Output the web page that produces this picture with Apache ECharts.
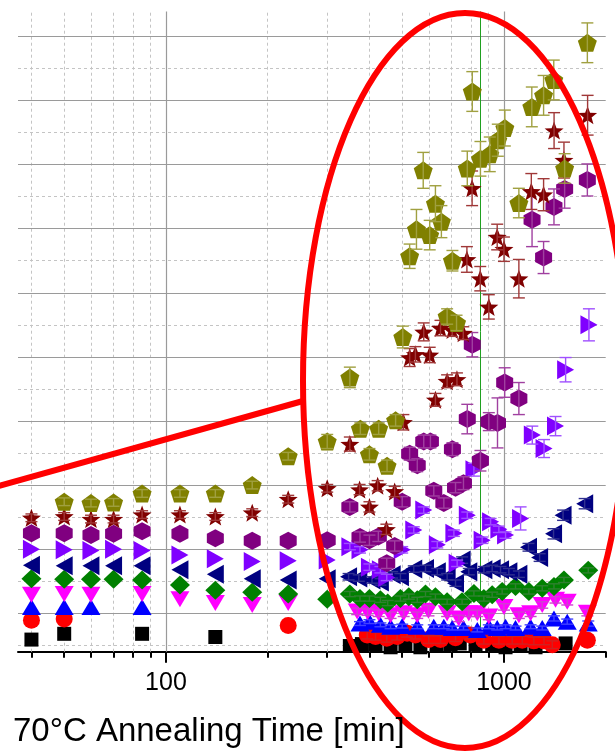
<!DOCTYPE html>
<html><head><meta charset="utf-8">
<script src="https://cdn.jsdelivr.net/npm/echarts@6/dist/echarts.min.js"></script>
<style>html,body{margin:0;padding:0;background:#fff}#c{width:615px;height:751px}</style>
</head><body><div id="c"></div>
<script>
// ---------- axis / grid values ----------
const xMin = 36.5, xMax = 2000;
const yMin = 0.401, yMax = 10.388;
const xTickMajor = [100, 1000];
const xTickLabels = ['100', '1000'];
const xTickMinor = [40, 50, 60, 70, 80, 90, 200, 300, 400, 500, 600, 700, 800, 900, 2000];
const xGridMinor = [40, 50, 60, 70, 80, 90, 200, 300, 400, 500, 600, 700, 800, 900];
const yGridMajor = [1, 2, 3, 4, 5, 6, 7, 8, 9, 10];
const yGridMinor = [0.5, 1.5, 2.5, 3.5, 4.5, 5.5, 6.5, 7.5, 8.5, 9.5];
const markerTime = 852;
const axisTitle = '70°C Annealing Time [min]';

// ---------- series data (time [min], value, error) ----------
const squareT = [40, 50, 85, 140, 350, 380, 417, 462, 511, 566, 632, 695, 740, 824, 923, 1011, 1120, 1240, 1522];
const squareV = [0.59, 0.68, 0.68, 0.63, 0.49, 0.52, 0.51, 0.47, 0.49, 0.47, 0.51, 0.51, 0.53, 0.51, 0.51, 0.47, 0.51, 0.47, 0.53];
const squareE = [0, 0, 0, 0, 0, 0, 0, 0, 0, 0, 0, 0, 0, 0, 0, 0, 0, 0, 0];

const circleT = [40, 50, 230, 394, 417, 450, 483, 517, 547, 599, 649, 719, 796, 872, 966, 1058, 1133, 1226, 1314, 1390, 1765];
const circleV = [0.89, 0.91, 0.81, 0.66, 0.64, 0.61, 0.64, 0.69, 0.66, 0.59, 0.59, 0.62, 0.66, 0.58, 0.58, 0.58, 0.58, 0.57, 0.57, 0.51, 0.58];
const circleE = [0, 0, 0, 0.06, 0.06, 0.06, 0.06, 0.06, 0.06, 0.06, 0.06, 0.06, 0.06, 0.06, 0.06, 0.06, 0.06, 0.06, 0.06, 0.06, 0];

const upT = [40, 50, 60, 85, 375, 400, 431, 462, 500, 554, 620, 664, 703, 759, 834, 902, 955, 1011, 1082, 1199, 1298, 1406, 1539, 1776];
const upV = [1.10, 1.10, 1.10, 1.10, 0.84, 0.87, 0.82, 0.79, 0.80, 0.79, 0.79, 0.79, 0.77, 0.77, 0.74, 0.79, 0.77, 0.79, 0.77, 0.79, 0.77, 0.92, 0.87, 0.84];
const upE = [0, 0, 0, 0, 0.03, 0.03, 0.03, 0.03, 0.03, 0.03, 0.03, 0.03, 0.03, 0.03, 0.03, 0.03, 0.03, 0.03, 0.03, 0.03, 0.03, 0.04, 0.04, 0.04];

const downT = [40, 50, 60, 85, 110, 140, 180, 230, 368, 395, 426, 462, 505, 554, 598, 679, 735, 787, 834, 902, 1000, 1107, 1199, 1298, 1421, 1539, 1765];
const downV = [1.29, 1.30, 1.29, 1.30, 1.22, 1.16, 1.13, 1.16, 1.03, 1.02, 1.00, 0.97, 1.00, 0.97, 1.04, 1.00, 0.92, 1.00, 1.00, 0.95, 1.10, 0.97, 1.00, 1.13, 1.21, 1.18, 1.01];
const downE = [0, 0, 0, 0, 0, 0, 0, 0, 0.05, 0.05, 0.05, 0.05, 0.05, 0.05, 0.08, 0.05, 0.05, 0.05, 0.05, 0.05, 0.05, 0.05, 0.05, 0.05, 0.05, 0.05, 0.05];

const diamondT = [40, 50, 60, 70, 85, 110, 140, 180, 230, 300, 350, 375, 400, 431, 453, 494, 523, 554, 586, 627, 679, 752, 815, 872, 923, 988, 1082, 1185, 1298, 1406, 1505, 1776];
const diamondV = [1.54, 1.53, 1.53, 1.53, 1.52, 1.44, 1.36, 1.33, 1.30, 1.22, 1.30, 1.23, 1.23, 1.21, 1.16, 1.23, 1.26, 1.21, 1.30, 1.26, 1.18, 1.18, 1.31, 1.23, 1.29, 1.34, 1.42, 1.34, 1.39, 1.42, 1.52, 1.67];
const diamondE = [0, 0, 0, 0, 0, 0, 0, 0, 0, 0, 0.04, 0.04, 0.04, 0.04, 0.04, 0.04, 0.04, 0.04, 0.04, 0.04, 0.04, 0.04, 0.04, 0.04, 0.04, 0.04, 0.04, 0.04, 0.04, 0.04, 0.04, 0.04];

const leftT = [40, 50, 60, 70, 85, 110, 140, 180, 230, 300, 347, 372, 407, 431, 467, 494, 541, 586, 635, 679, 719, 752, 787, 872, 923, 977, 1034, 1107, 1182, 1275, 1402, 1496, 1733];
const leftV = [1.75, 1.74, 1.74, 1.74, 1.74, 1.68, 1.61, 1.54, 1.52, 1.54, 1.57, 1.55, 1.52, 1.49, 1.60, 1.57, 1.69, 1.70, 1.65, 1.57, 1.47, 1.83, 1.65, 1.68, 1.70, 1.68, 1.65, 1.61, 2.03, 1.87, 2.24, 2.53, 2.71];
const leftE = [0, 0, 0, 0, 0, 0, 0, 0, 0, 0, 0.05, 0.05, 0.05, 0.05, 0.05, 0.05, 0.05, 0.05, 0.05, 0.05, 0.05, 0.05, 0.05, 0.05, 0.05, 0.05, 0.05, 0.05, 0.06, 0.06, 0.08, 0.08, 0.08];

const rightT = [40, 50, 60, 70, 85, 110, 140, 180, 230, 300, 350, 375, 400, 431, 450, 500, 541, 579, 635, 711, 727, 779, 815, 862, 913, 966, 1011, 1120, 1213, 1314, 1421, 1522, 1784];
const rightV = [2.00, 1.99, 1.98, 2.00, 1.98, 1.91, 1.85, 1.81, 1.82, 1.83, 2.04, 1.99, 1.72, 1.68, 1.56, 1.99, 2.30, 2.61, 2.07, 2.25, 1.78, 2.53, 3.24, 2.14, 2.43, 2.31, 2.22, 2.48, 3.78, 3.57, 3.92, 4.80, 5.50];
const rightE = [0, 0, 0, 0, 0, 0, 0, 0, 0, 0, 0.05, 0.05, 0.05, 0.05, 0.05, 0.05, 0.05, 0.05, 0.05, 0.05, 0.05, 0.05, 0.1, 0.05, 0.05, 0.05, 0.05, 0.18, 0.14, 0.14, 0.15, 0.19, 0.25];

const hexT = [40, 50, 60, 70, 85, 110, 140, 180, 230, 300, 350, 375, 400, 425, 450, 475, 500, 526, 554, 579, 606, 620, 664, 704, 719, 759, 779, 806, 852, 902, 957, 1005, 1107, 1211, 1310, 1406, 1512, 1765];
const hexV = [2.25, 2.25, 2.22, 2.24, 2.28, 2.24, 2.17, 2.13, 2.13, 2.14, 2.66, 2.19, 2.14, 2.20, 1.78, 2.05, 2.74, 3.49, 3.31, 3.68, 3.68, 2.91, 2.72, 3.56, 2.96, 3.03, 4.03, 5.19, 3.38, 3.99, 3.97, 4.60, 4.35, 7.14, 6.55, 7.34, 7.62, 7.76];
const hexE = [0, 0, 0, 0, 0, 0, 0, 0, 0, 0, 0.08, 0.08, 0.08, 0.08, 0.08, 0.08, 0.08, 0.1, 0.1, 0.1, 0.1, 0.08, 0.08, 0.1, 0.08, 0.1, 0.23, 0.19, 0.16, 0.14, 0.39, 0.23, 0.25, 0.42, 0.25, 0.28, 0.3, 0.25];

const starT = [40, 50, 60, 70, 85, 110, 140, 180, 230, 300, 350, 374, 400, 423, 449, 475, 504, 526, 547, 579, 603, 627, 649, 679, 703, 726, 758, 777, 805, 851, 902, 955, 1000, 1107, 1205, 1310, 1407, 1505, 1768];
const starV = [2.49, 2.51, 2.47, 2.47, 2.54, 2.54, 2.51, 2.57, 2.78, 2.95, 3.64, 2.93, 2.66, 2.99, 2.31, 2.90, 3.98, 4.99, 5.04, 5.39, 5.03, 4.33, 5.45, 4.62, 5.42, 4.65, 5.37, 6.52, 7.63, 6.22, 5.78, 6.87, 6.68, 6.22, 7.58, 7.53, 8.53, 8.07, 8.77];
const starE = [0.06, 0.06, 0.06, 0.06, 0.06, 0.06, 0.06, 0.06, 0.06, 0.06, 0.11, 0.08, 0.08, 0.08, 0.08, 0.08, 0.12, 0.14, 0.12, 0.14, 0.12, 0.1, 0.12, 0.1, 0.1, 0.1, 0.1, 0.2, 0.27, 0.19, 0.19, 0.2, 0.19, 0.3, 0.28, 0.25, 0.28, 0.28, 0.31];

const pentT = [50, 60, 70, 85, 110, 140, 180, 230, 300, 350, 376, 400, 426, 451, 478, 502, 526, 551, 577, 603, 627, 653, 679, 704, 724, 779, 806, 852, 908, 959, 1006, 1107, 1209, 1310, 1404, 1512, 1765];
const pentV = [2.74, 2.72, 2.73, 2.87, 2.87, 2.87, 3.00, 3.45, 3.68, 4.68, 3.88, 3.48, 3.88, 3.30, 4.01, 5.31, 6.57, 6.99, 7.91, 6.90, 7.39, 7.11, 5.63, 6.50, 5.53, 7.94, 9.14, 8.09, 8.16, 8.38, 8.57, 7.40, 8.90, 9.08, 9.32, 7.94, 9.90];
const pentE = [0.06, 0.06, 0.06, 0.06, 0.06, 0.06, 0.06, 0.06, 0.11, 0.16, 0.09, 0.09, 0.09, 0.09, 0.09, 0.17, 0.19, 0.31, 0.28, 0.23, 0.28, 0.25, 0.12, 0.16, 0.12, 0.27, 0.31, 0.27, 0.27, 0.25, 0.28, 0.23, 0.31, 0.31, 0.31, 0.23, 0.31];

// ---------- styling ----------
const P_PENT = 'path://M50,0 L97.6,34.5 L79.4,90.5 L20.6,90.5 L2.4,34.5 Z';
const P_HEX = 'path://M50,0 L93.3,25 L93.3,75 L50,100 L6.7,75 L6.7,25 Z';
const P_STAR = 'path://M50,0 L62.3,33 L97.6,34.5 L70,56.5 L79.4,90.5 L50,71 L20.6,90.5 L30,56.5 L2.4,34.5 L37.7,33 Z';
const P_RIGHT = 'path://M0,0 L100,50 L0,100 Z';
const P_LEFT = 'path://M100,0 L0,50 L100,100 Z';
const P_DOWN = 'path://M0,0 L100,0 L50,100 Z';

const groups = [
  {t: squareT, v: squareV, e: squareE, color: '#000000', ec: '#404040', symbol: 'rect', size: [14, 14]},
  {t: circleT, v: circleV, e: circleE, color: '#ff0000', ec: '#d02020', symbol: 'circle', size: [17, 17]},
  {t: upT, v: upV, e: upE, color: '#0000ff', ec: '#4040ff', symbol: 'triangle', size: [19, 16]},
  {t: downT, v: downV, e: downE, color: '#ff00ff', ec: '#d040d0', symbol: P_DOWN, size: [19, 16]},
  {t: diamondT, v: diamondV, e: diamondE, color: '#008000', ec: '#308030', symbol: 'diamond', size: [20, 19]},
  {t: leftT, v: leftV, e: leftE, color: '#000080', ec: '#303090', symbol: P_LEFT, size: [17, 19]},
  {t: rightT, v: rightV, e: rightE, color: '#8000ff', ec: '#a050ff', symbol: P_RIGHT, size: [17, 19]},
  {t: hexT, v: hexV, e: hexE, color: '#800080', ec: '#a040a0', symbol: P_HEX, size: [17, 18]},
  {t: starT, v: starV, e: starE, color: '#800000', ec: '#a03838', symbol: P_STAR, size: [19, 18]},
  {t: pentT, v: pentV, e: pentE, color: '#808000', ec: '#a0a040', symbol: P_PENT, size: [19, 18]}
];

function errorSeries(g, z) {
  const data = [];
  g.t.forEach((ti, i) => { if (g.e[i] > 0) data.push([ti, g.v[i] - g.e[i], g.v[i] + g.e[i]]); });
  return {
    type: 'custom', xAxisIndex: 0, yAxisIndex: 0, z: z, silent: true, clip: false, animation: false,
    encode: {x: 0, y: [1, 2]},
    data: data,
    renderItem: function (params, api) {
      const x = api.value(0);
      const pHi = api.coord([x, api.value(2)]);
      const pLo = api.coord([x, api.value(1)]);
      const hw = 6;
      const st = {stroke: g.ec, lineWidth: 1.4, fill: null};
      return {type: 'group', children: [
        {type: 'line', shape: {x1: pHi[0], y1: pHi[1], x2: pLo[0], y2: pLo[1]}, style: st},
        {type: 'line', shape: {x1: pHi[0] - hw, y1: pHi[1], x2: pHi[0] + hw, y2: pHi[1]}, style: st},
        {type: 'line', shape: {x1: pLo[0] - hw, y1: pLo[1], x2: pLo[0] + hw, y2: pLo[1]}, style: st}
      ]};
    }
  };
}

const series = [];
// grid lines (behind data)
series.push({
  type: 'scatter', xAxisIndex: 0, yAxisIndex: 0, data: [], z: 1, silent: true,
  markLine: {
    silent: true, symbol: ['none', 'none'], label: {show: false}, animation: false,
    lineStyle: {color: '#c4c4c4', width: 1, type: [3, 3]},
    emphasis: {disabled: true},
    data: yGridMinor.map(v => ({yAxis: v})).concat(xGridMinor.map(t => ({xAxis: t})))
  }
});
series.push({
  type: 'scatter', xAxisIndex: 0, yAxisIndex: 0, data: [], z: 1, silent: true,
  markLine: {
    silent: true, symbol: ['none', 'none'], label: {show: false}, animation: false,
    lineStyle: {color: '#9a9a9a', width: 1.2, type: 'solid'},
    emphasis: {disabled: true},
    data: yGridMajor.map(v => ({yAxis: v})).concat(xTickMajor.map(t => ({xAxis: t})))
  }
});
groups.forEach((g, i) => {
  series.push({
    type: 'scatter', xAxisIndex: 0, yAxisIndex: 0, z: 10 + 2 * i, silent: true, clip: false, animation: false,
    symbol: g.symbol, symbolSize: g.size,
    itemStyle: {color: g.color, opacity: 1},
    emphasis: {disabled: true},
    data: g.t.map((ti, k) => [ti, g.v[k]])
  });
  series.push(errorSeries(g, 11 + 2 * i));
});
// green marker line
series.push({
  type: 'scatter', xAxisIndex: 0, yAxisIndex: 0, data: [], z: 60, silent: true,
  markLine: {
    silent: true, symbol: ['none', 'none'], label: {show: false}, animation: false,
    lineStyle: {color: '#20a020', width: 1, type: 'solid'},
    emphasis: {disabled: true},
    data: [{xAxis: markerTime}]
  }
});

const option = {
  animation: false,
  backgroundColor: '#ffffff',
  grid: {left: 18, right: 9.3, top: 11.5, bottom: 99.3, containLabel: false},
  xAxis: [
    {
      type: 'log', logBase: 10, min: xMin, max: xMax, position: 'bottom',
      axisLine: {show: true, onZero: false, lineStyle: {color: '#000', width: 2}},
      axisTick: {show: true, inside: false, length: 11, lineStyle: {color: '#000', width: 2}, customValues: xTickMajor},
      axisLabel: {
        show: true, customValues: xTickMajor, margin: 19, fontSize: 25, color: '#000',
        fontFamily: 'Liberation Sans',
        formatter: function (v) { const k = xTickMajor.indexOf(Math.round(v)); return k >= 0 ? xTickLabels[k] : ''; }
      },
      splitLine: {show: false}
    },
    {
      type: 'log', logBase: 10, min: xMin, max: xMax, position: 'bottom',
      axisLine: {show: false, onZero: false},
      axisTick: {show: true, inside: false, length: 6, lineStyle: {color: '#000', width: 2}, customValues: xTickMinor},
      axisLabel: {show: false},
      splitLine: {show: false}
    }
  ],
  yAxis: {
    type: 'value', min: yMin, max: yMax,
    axisLine: {show: false}, axisTick: {show: false}, axisLabel: {show: false}, splitLine: {show: false}
  },
  graphic: [
    {type: 'ellipse', z: 100, silent: true, shape: {cx: 465, cy: 380.5, rx: 162, ry: 367.5},
     style: {fill: null, stroke: '#ff0000', lineWidth: 6}},
    {type: 'line', z: 100, silent: true, shape: {x1: -5, y1: 487.1, x2: 303, y2: 401},
     style: {stroke: '#ff0000', lineWidth: 6}},
    {type: 'text', z: 100, silent: true, x: 13, y: 732,
     style: {text: axisTitle, fontSize: 33, fontFamily: 'Liberation Sans', fill: '#000', verticalAlign: 'middle', align: 'left'}}
  ],
  series: series
};

const chart = echarts.init(document.getElementById('c'), null, {renderer: 'canvas'});
chart.setOption(option);
</script>
</body></html>
